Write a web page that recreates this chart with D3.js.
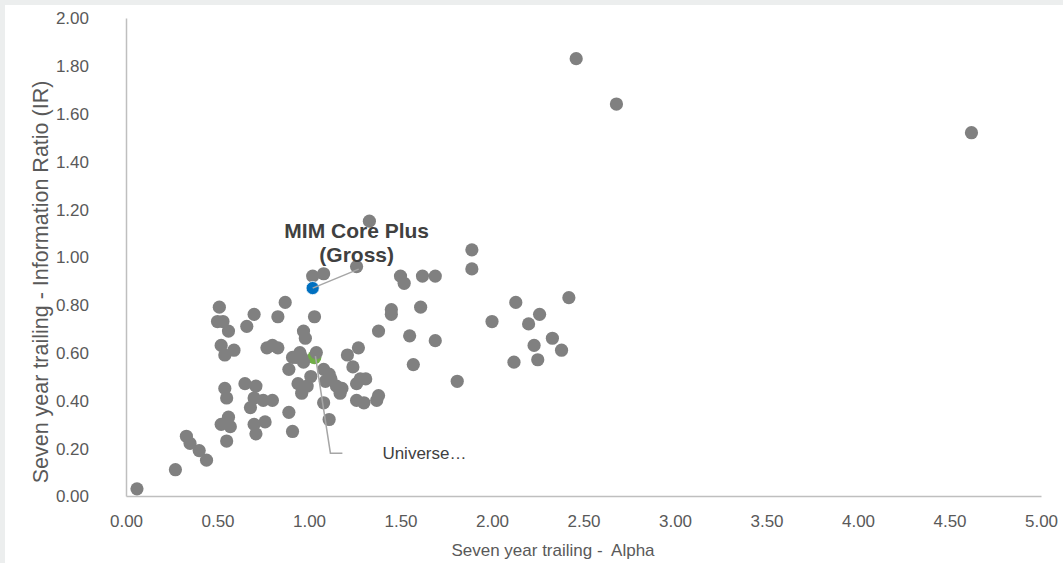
<!DOCTYPE html>
<html><head><meta charset="utf-8">
<script src="https://cdn.jsdelivr.net/npm/d3@7/dist/d3.min.js"></script>
<style>
html,body{margin:0;padding:0;background:#eceeee;}
svg{display:block;font-family:"Liberation Sans",Arial,sans-serif;}
</style></head>
<body>
<svg id="chart" width="1063" height="563"></svg>
<script>
// Universe scatter (Seven year trailing Alpha, Information Ratio)
const universeAlpha = [0.06,0.27,0.33,0.35,0.40,0.44,0.52,0.56,0.57,0.55,0.54,0.55,0.65,0.71,0.70,0.75,0.80,0.68,0.89,0.70,0.76,0.71,0.91,
  0.51,0.87,0.50,0.53,0.70,0.83,0.66,0.56,0.52,0.54,0.59,0.77,0.80,0.83,0.89,
  0.97,0.98,0.95,0.93,0.96,0.97,0.91,1.01,0.94,0.99,0.96,1.04,1.08,1.11,1.12,1.15,1.09,1.17,1.18,1.08,1.11,
  1.21,1.27,1.24,1.28,1.26,1.31,1.26,1.30,1.37,1.38,
  1.33,1.02,1.08,1.26,1.50,1.52,1.62,1.69,1.89,1.89,1.45,1.45,1.61,1.03,1.38,1.55,1.69,1.57,1.81,
  2.13,2.42,2.00,2.20,2.26,2.33,2.23,2.38,2.25,2.12,2.46,2.68,4.62];
const universeIR = [0.03,0.11,0.25,0.22,0.19,0.15,0.30,0.33,0.29,0.23,0.45,0.41,0.47,0.46,0.41,0.40,0.40,0.37,0.35,0.30,0.31,0.26,0.27,
  0.79,0.81,0.73,0.73,0.76,0.75,0.71,0.69,0.63,0.59,0.61,0.62,0.63,0.62,0.53,
  0.69,0.66,0.60,0.58,0.58,0.56,0.58,0.50,0.47,0.46,0.43,0.60,0.53,0.51,0.49,0.46,0.48,0.43,0.45,0.39,0.32,
  0.59,0.62,0.54,0.49,0.47,0.49,0.40,0.39,0.40,0.42,
  1.15,0.92,0.93,0.96,0.92,0.89,0.92,0.92,1.03,0.95,0.78,0.76,0.79,0.75,0.69,0.67,0.65,0.55,0.48,
  0.81,0.83,0.73,0.72,0.76,0.66,0.63,0.61,0.57,0.56,1.83,1.64,1.52];
// Highlighted fund
const fundName = ["MIM Core Plus", "(Gross)"];
const fundAlpha = [1.02];
const fundIR = [0.87];
// Universe median marker
const medianLabel = "Universe…";
const medianAlpha = [1.035];
const medianIR = [0.585];
// Axis ticks
const xTicks = [0,0.5,1,1.5,2,2.5,3,3.5,4,4.5,5];
const yTicks = [0,0.2,0.4,0.6,0.8,1.0,1.2,1.4,1.6,1.8,2.0];
const xTitle = "Seven year trailing -  Alpha";
const yTitle = "Seven year trailing - Information Ratio (IR)";

const svg = d3.select("#chart");
svg.append("rect").attr("x",5).attr("y",5).attr("width",1058).attr("height",558).attr("fill","#ffffff");

const L=126, R=1041, T=18, B=496;
const x = d3.scaleLinear().domain([0,5]).range([L,R]);
const y = d3.scaleLinear().domain([0,2]).range([B,T]);
const txt = "#595959", axisCol = "#bfbfbf";

const gx = svg.append("g").attr("transform",`translate(0,${B})`)
  .call(d3.axisBottom(x).tickValues(xTicks).tickFormat(d3.format(".2f")).tickSize(0).tickPadding(19));
const gy = svg.append("g").attr("transform",`translate(${L},0)`)
  .call(d3.axisLeft(y).tickValues(yTicks).tickFormat(d3.format(".2f")).tickSize(0).tickPadding(37));
[gx,gy].forEach(g=>{
  g.select(".domain").attr("stroke",axisCol).attr("stroke-width",1.5);
  g.selectAll("text").attr("fill",txt).style("font-size","17px").style("font-family","'Liberation Sans',Arial,sans-serif");
});
gy.selectAll("text").attr("dy","0.35em");

svg.append("text").attr("x",553).attr("y",556).attr("text-anchor","middle")
  .attr("fill",txt).style("font-size","17px").style("white-space","pre").text(xTitle);
svg.append("text").attr("transform",`translate(40,282) rotate(-90)`).attr("text-anchor","middle")
  .attr("dy","0.35em").attr("fill",txt).style("font-size","21.5px").text(yTitle);

// median marker (under universe points)
svg.append("g").selectAll("circle").data(medianAlpha.map((a,i)=>[a,medianIR[i]])).join("circle")
  .attr("cx",d=>x(d[0])-1).attr("cy",d=>y(d[1])+1).attr("r",7).attr("fill","#70ad47");

// universe points
svg.append("g").selectAll("circle").data(universeAlpha.map((a,i)=>[a,universeIR[i]])).join("circle")
  .attr("cx",d=>x(d[0])).attr("cy",d=>y(d[1])).attr("r",6.6).attr("fill","#808080");

// fund point
svg.append("g").selectAll("circle").data(fundAlpha.map((a,i)=>[a,fundIR[i]])).join("circle")
  .attr("cx",d=>x(d[0])).attr("cy",d=>y(d[1])).attr("r",6.6).attr("fill","#0070c0")
  .attr("stroke","#ffffff").attr("stroke-width",0.8);

// leader lines
const fx = x(fundAlpha[0]), fy = y(fundIR[0]);
svg.append("line").attr("x1",fx).attr("y1",fy).attr("x2",fx+46).attr("y2",fy-19)
  .attr("stroke","#a6a6a6").attr("stroke-width",1.5);
const mx = x(medianAlpha[0]), my = y(medianIR[0]);
svg.append("polyline").attr("points",`${mx},${my} ${mx+15},${my+97} ${mx+27},${my+97}`)
  .attr("fill","none").attr("stroke","#a6a6a6").attr("stroke-width",1.5);

// labels
svg.append("g").selectAll("text").data(fundName).join("text")
  .attr("x",fx+44).attr("y",(d,i)=>fy-58+i*24+8).attr("text-anchor","middle")
  .attr("fill","#404040").style("font-size","21px").style("font-weight","bold").text(d=>d);
svg.append("text").attr("x",mx+67).attr("y",my+97).attr("dy","0.35em")
  .attr("fill","#404040").style("font-size","17px").text(medianLabel);
</script>
</body></html>
